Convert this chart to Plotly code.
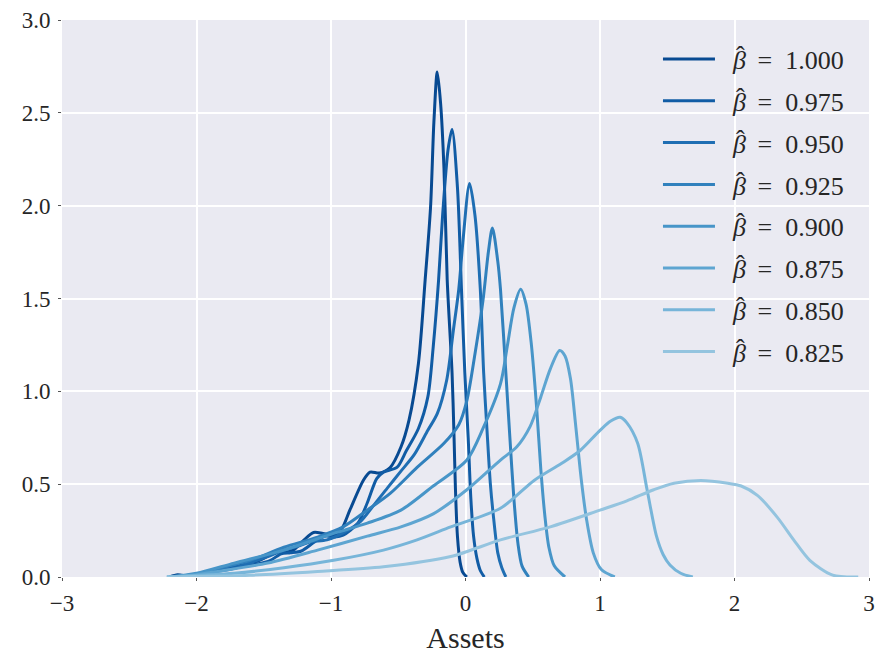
import plotly.graph_objects as go

labels = ["1.000", "0.975", "0.950", "0.925", "0.900", "0.875", "0.850", "0.825"]
colors = ["#084a92", "#115ca5", "#1f6eb3", "#3181bd", "#4795c8", "#5ea5d1", "#77b5d9", "#94c4df"]

x_b1000 = [-2.20, -2.14, -2.05, -1.92, -1.77, -1.65, -1.55, -1.45, -1.40, -1.33, -1.27, -1.20, -1.13, -1.06,
           -0.98, -0.92, -0.86, -0.76, -0.71, -0.64, -0.56, -0.48, -0.42, -0.35, -0.30, -0.26, -0.235, -0.21,
           -0.185, -0.16, -0.136, -0.10, -0.085, -0.075, -0.06, -0.04, -0.02, 0.01]
y_b1000 = [0, 0.012, 0.003, 0.025, 0.055, 0.075, 0.085, 0.12, 0.14, 0.135, 0.15, 0.20, 0.24, 0.235,
           0.225, 0.26, 0.36, 0.52, 0.565, 0.56, 0.59, 0.70, 0.845, 1.15, 1.60, 1.99, 2.45, 2.72,
           2.55, 2.20, 1.60, 1.10, 0.75, 0.48, 0.22, 0.08, 0.025, 0]

x_b0975 = [-2.20, -2.00, -1.85, -1.70, -1.55, -1.45, -1.37, -1.30, -1.22, -1.12, -1.04, -0.97, -0.91, -0.80,
           -0.73, -0.66, -0.61, -0.51, -0.44, -0.35, -0.28, -0.24, -0.20, -0.17, -0.13, -0.10, -0.06, -0.03,
           -0.005, 0.02, 0.04, 0.06, 0.085, 0.11, 0.14]
y_b0975 = [0, 0.01, 0.035, 0.055, 0.07, 0.09, 0.125, 0.13, 0.14, 0.19, 0.22, 0.215, 0.225, 0.29,
           0.40, 0.53, 0.565, 0.59, 0.68, 0.80, 0.97, 1.24, 1.60, 1.95, 2.30, 2.41, 2.10, 1.55,
           1.10, 0.75, 0.42, 0.22, 0.10, 0.035, 0]

x_b0950 = [-2.20, -2.00, -1.85, -1.70, -1.55, -1.45, -1.35, -1.25, -1.15, -1.03, -0.88, -0.78, -0.70, -0.58,
           -0.48, -0.38, -0.28, -0.21, -0.14, -0.09, -0.05, -0.02, 0.03, 0.07, 0.11, 0.135, 0.16, 0.185,
           0.21, 0.24, 0.27, 0.30]
y_b0950 = [0, 0.01, 0.03, 0.05, 0.09, 0.115, 0.145, 0.165, 0.19, 0.20, 0.25, 0.30, 0.37, 0.48,
           0.57, 0.66, 0.79, 0.88, 1.06, 1.33, 1.55, 1.80, 2.12, 1.95, 1.55, 1.10, 0.79, 0.50,
           0.31, 0.13, 0.05, 0]

x_b0925 = [-2.20, -2.00, -1.84, -1.60, -1.35, -1.10, -0.91, -0.73, -0.56, -0.36, -0.16, -0.05, 0.01, 0.07,
           0.13, 0.17, 0.20, 0.24, 0.26, 0.30, 0.33, 0.36, 0.39, 0.42, 0.47]
y_b0925 = [0, 0.015, 0.045, 0.09, 0.16, 0.215, 0.27, 0.36, 0.45, 0.59, 0.72, 0.82, 0.95, 1.20,
           1.49, 1.75, 1.88, 1.70, 1.55, 1.10, 0.75, 0.42, 0.18, 0.06, 0]

x_b0900 = [-2.20, -2.00, -1.72, -1.35, -0.98, -0.73, -0.48, -0.24, 0.01, 0.13, 0.26, 0.31, 0.36, 0.41,
           0.45, 0.49, 0.53, 0.56, 0.59, 0.62, 0.66, 0.74]
y_b0900 = [0, 0.02, 0.075, 0.145, 0.235, 0.29, 0.36, 0.49, 0.63, 0.80, 1.04, 1.24, 1.45, 1.55,
           1.47, 1.25, 0.90, 0.58, 0.33, 0.16, 0.06, 0]

x_b0875 = [-2.22, -2.00, -1.84, -1.47, -1.10, -0.73, -0.48, -0.24, 0.01, 0.26, 0.38, 0.48, 0.56, 0.63,
           0.70, 0.74, 0.78, 0.82, 0.86, 0.90, 0.95, 1.01, 1.11]
y_b0875 = [0, 0.012, 0.03, 0.075, 0.145, 0.22, 0.27, 0.34, 0.47, 0.63, 0.70, 0.81, 0.97, 1.12,
           1.22, 1.19, 1.07, 0.81, 0.53, 0.31, 0.13, 0.04, 0]

x_b0850 = [-2.22, -1.72, -1.35, -0.98, -0.61, -0.36, -0.11, 0.26, 0.51, 0.71, 0.85, 1.00, 1.08, 1.15,
           1.20, 1.28, 1.35, 1.42, 1.47, 1.52, 1.60, 1.69]
y_b0850 = [0, 0.02, 0.05, 0.09, 0.145, 0.20, 0.27, 0.37, 0.52, 0.61, 0.68, 0.79, 0.84, 0.86,
           0.83, 0.72, 0.47, 0.22, 0.12, 0.065, 0.02, 0]

x_b0825 = [-2.22, -1.60, -1.10, -0.61, -0.11, 0.26, 0.63, 1.00, 1.20, 1.40, 1.55, 1.75, 1.95, 2.05,
           2.17, 2.32, 2.44, 2.56, 2.73, 2.92]
y_b0825 = [0, 0.01, 0.03, 0.055, 0.11, 0.20, 0.27, 0.36, 0.41, 0.47, 0.505, 0.52, 0.505, 0.49,
           0.44, 0.32, 0.20, 0.09, 0.01, 0]

xs = [x_b1000, x_b0975, x_b0950, x_b0925, x_b0900, x_b0875, x_b0850, x_b0825]
ys = [y_b1000, y_b0975, y_b0950, y_b0925, y_b0900, y_b0875, y_b0850, y_b0825]

x_ticks = [-3, -2, -1, 0, 1, 2, 3]
y_ticks = [0.0, 0.5, 1.0, 1.5, 2.0, 2.5, 3.0]

FONT = "Liberation Serif"
TXT = "#262626"
NB = "\u00a0"
BETA_HAT = ('<span style="font-style:italic;letter-spacing:-10px">β</span>'
            '<span style="baseline-shift:5px">ˆ</span>')

fig = go.Figure()
for i, (lab, c, x, y) in enumerate(zip(labels, colors, xs, ys)):
    name = NB * 2 + BETA_HAT + NB * 2 + "=" + NB * 2 + lab
    fig.add_trace(go.Scatter(
        x=x, y=y, mode="lines",
        line=dict(color=c, width=3, shape="spline", smoothing=0.8),
        name=name,
        legendgroup="g%d" % i,
    ))

fig.update_layout(
    width=878, height=654,
    margin=dict(l=62, r=9, t=20, b=77, autoexpand=False),
    paper_bgcolor="white",
    plot_bgcolor="#EAEAF2",
    font=dict(family=FONT, size=20, color=TXT),
    showlegend=True,
    legend=dict(
        x=0.7385, y=0.972, xanchor="left", yanchor="top",
        bgcolor="rgba(0,0,0,0)", borderwidth=0,
        font=dict(family=FONT, size=26, color=TXT),
        tracegroupgap=5, itemwidth=52,
    ),
    xaxis=dict(
        range=[-3, 3], tickvals=x_ticks, ticktext=[("−%d" % -v) if v < 0 else str(v) for v in x_ticks],
        showgrid=True, gridcolor="white", gridwidth=1.5, zeroline=False, showline=False,
        ticks="outside", ticklen=3, tickcolor="#555555", tickwidth=1, automargin=False,
        ticklabelstandoff=2,
        tickfont=dict(family=FONT, size=23, color=TXT),
        title=dict(text="Assets", font=dict(family=FONT, size=30, color=TXT), standoff=12),
    ),
    yaxis=dict(
        range=[0, 3.0], tickvals=y_ticks, tickformat=".1f",
        showgrid=True, gridcolor="white", gridwidth=1.5, zeroline=False, showline=False,
        ticks="outside", ticklen=3, tickcolor="#555555", tickwidth=1, automargin=False,
        ticklabelstandoff=3,
        tickfont=dict(family=FONT, size=23, color=TXT),
    ),
)

fig.write_html("out.html")
